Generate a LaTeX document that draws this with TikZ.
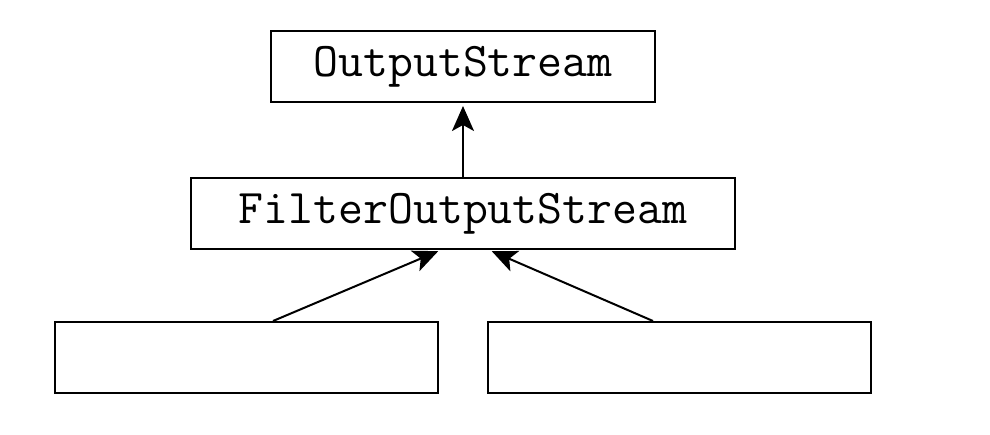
\documentclass[tikz,border=0pt]{standalone}
\usetikzlibrary{positioning, arrows.meta, calc}

\tikzset{
  classbox/.style={draw, line width=1pt, minimum height=35.5pt, inner sep=0pt,
    font=\ttfamily\fontsize{24.2}{28}\selectfont},
  inherit/.style={line width=1pt, -{Stealth[length=12.5pt, width=11pt, inset=3pt]}, shorten >=1.5pt}
}

\begin{document}
\begin{tikzpicture}[x=0.5pt, y=-0.5pt]
    \useasboundingbox (0,0) rectangle (990,434);

    % Draw class boxes
    \node[classbox, minimum width=192pt] (out) at (463,66.5) {OutputStream};
    \node[classbox, minimum width=272pt] (filt) at (463,213.5) {FilterOutputStream};
    \node[classbox, minimum width=191.5pt] (leftsub) at (246.5,357.5) {};
    \node[classbox, minimum width=191.5pt] (rightsub) at (679.5,357.5) {};

    % Draw inheritance arrows
    \draw[inherit] (filt) -- (out);
    \draw[inherit] ($(leftsub.north)+(26.5,0)$) -- ($(filt.south)+(-22,0)$);
    \draw[inherit] ($(rightsub.north)+(-26.5,0)$) -- ($(filt.south)+(26,0)$);
\end{tikzpicture}
\end{document}
